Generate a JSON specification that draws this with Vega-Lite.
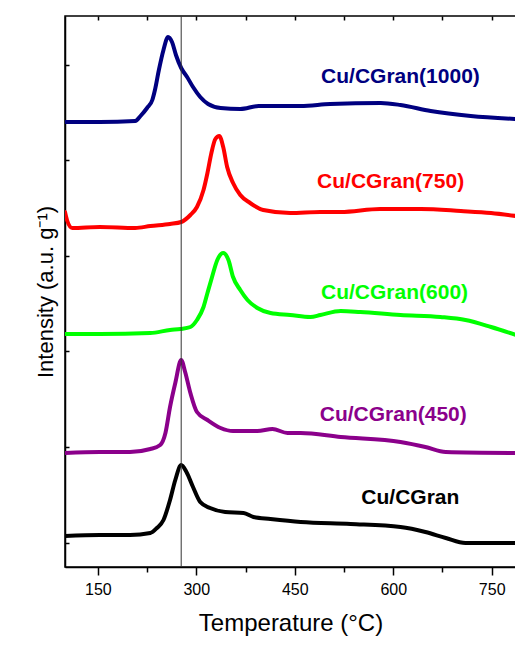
{
  "$schema": "https://vega.github.io/schema/vega-lite/v6.json",
  "autosize": {"type": "none"},
  "padding": {"left": 65, "top": 16, "right": 0, "bottom": 81},
  "width": 451,
  "height": 551,
  "background": "white",
  "config": {
    "font": "Liberation Sans",
    "view": {"stroke": "black", "strokeWidth": 1.5},
    "axis": {"domainColor": "black", "domainWidth": 1.5, "tickColor": "black", "tickWidth": 1.5, "grid": false, "labelFont": "Liberation Sans", "titleFont": "Liberation Sans", "labelColor": "black", "titleColor": "black"}
  },
  "datasets": {
    "curves": [
      {"series": "Cu/CGran", "T": 100, "I": 31}, {"series": "Cu/CGran", "T": 153, "I": 32}, {"series": "Cu/CGran", "T": 199, "I": 32}, {"series": "Cu/CGran", "T": 230, "I": 34}, {"series": "Cu/CGran", "T": 240, "I": 39}, {"series": "Cu/CGran", "T": 250, "I": 47}, {"series": "Cu/CGran", "T": 260, "I": 67}, {"series": "Cu/CGran", "T": 268, "I": 87}, {"series": "Cu/CGran", "T": 277, "I": 102}, {"series": "Cu/CGran", "T": 285, "I": 95}, {"series": "Cu/CGran", "T": 295, "I": 80}, {"series": "Cu/CGran", "T": 306, "I": 65}, {"series": "Cu/CGran", "T": 321, "I": 59}, {"series": "Cu/CGran", "T": 344, "I": 55}, {"series": "Cu/CGran", "T": 372, "I": 54}, {"series": "Cu/CGran", "T": 387, "I": 50}, {"series": "Cu/CGran", "T": 413, "I": 48}, {"series": "Cu/CGran", "T": 459, "I": 45}, {"series": "Cu/CGran", "T": 535, "I": 43}, {"series": "Cu/CGran", "T": 611, "I": 40}, {"series": "Cu/CGran", "T": 649, "I": 35}, {"series": "Cu/CGran", "T": 680, "I": 29}, {"series": "Cu/CGran", "T": 710, "I": 24}, {"series": "Cu/CGran", "T": 787, "I": 24},
      {"series": "Cu/CGran(450)", "T": 100, "I": 114}, {"series": "Cu/CGran(450)", "T": 153, "I": 115}, {"series": "Cu/CGran(450)", "T": 199, "I": 115}, {"series": "Cu/CGran(450)", "T": 230, "I": 118}, {"series": "Cu/CGran(450)", "T": 245, "I": 122}, {"series": "Cu/CGran(450)", "T": 253, "I": 134}, {"series": "Cu/CGran(450)", "T": 260, "I": 160}, {"series": "Cu/CGran(450)", "T": 268, "I": 184}, {"series": "Cu/CGran(450)", "T": 277, "I": 207}, {"series": "Cu/CGran(450)", "T": 283, "I": 195}, {"series": "Cu/CGran(450)", "T": 291, "I": 174}, {"series": "Cu/CGran(450)", "T": 301, "I": 155}, {"series": "Cu/CGran(450)", "T": 317, "I": 147}, {"series": "Cu/CGran(450)", "T": 337, "I": 139}, {"series": "Cu/CGran(450)", "T": 356, "I": 136}, {"series": "Cu/CGran(450)", "T": 393, "I": 136}, {"series": "Cu/CGran(450)", "T": 416, "I": 138}, {"series": "Cu/CGran(450)", "T": 439, "I": 134}, {"series": "Cu/CGran(450)", "T": 459, "I": 134}, {"series": "Cu/CGran(450)", "T": 520, "I": 130}, {"series": "Cu/CGran(450)", "T": 611, "I": 125}, {"series": "Cu/CGran(450)", "T": 649, "I": 120}, {"series": "Cu/CGran(450)", "T": 680, "I": 115}, {"series": "Cu/CGran(450)", "T": 787, "I": 114},
      {"series": "Cu/CGran(600)", "T": 100, "I": 233}, {"series": "Cu/CGran(600)", "T": 153, "I": 233}, {"series": "Cu/CGran(600)", "T": 230, "I": 234}, {"series": "Cu/CGran(600)", "T": 260, "I": 237}, {"series": "Cu/CGran(600)", "T": 276, "I": 238}, {"series": "Cu/CGran(600)", "T": 291, "I": 240}, {"series": "Cu/CGran(600)", "T": 301, "I": 247}, {"series": "Cu/CGran(600)", "T": 311, "I": 260}, {"series": "Cu/CGran(600)", "T": 317, "I": 274}, {"series": "Cu/CGran(600)", "T": 324, "I": 290}, {"series": "Cu/CGran(600)", "T": 332, "I": 307}, {"series": "Cu/CGran(600)", "T": 341, "I": 314}, {"series": "Cu/CGran(600)", "T": 349, "I": 307}, {"series": "Cu/CGran(600)", "T": 356, "I": 290}, {"series": "Cu/CGran(600)", "T": 367, "I": 277}, {"series": "Cu/CGran(600)", "T": 378, "I": 267}, {"series": "Cu/CGran(600)", "T": 393, "I": 259}, {"series": "Cu/CGran(600)", "T": 413, "I": 254}, {"series": "Cu/CGran(600)", "T": 443, "I": 252}, {"series": "Cu/CGran(600)", "T": 474, "I": 250}, {"series": "Cu/CGran(600)", "T": 489, "I": 252}, {"series": "Cu/CGran(600)", "T": 520, "I": 256}, {"series": "Cu/CGran(600)", "T": 550, "I": 255}, {"series": "Cu/CGran(600)", "T": 611, "I": 252}, {"series": "Cu/CGran(600)", "T": 672, "I": 250}, {"series": "Cu/CGran(600)", "T": 710, "I": 247}, {"series": "Cu/CGran(600)", "T": 749, "I": 240}, {"series": "Cu/CGran(600)", "T": 787, "I": 232},
      {"series": "Cu/CGran(750)", "T": 100, "I": 355}, {"series": "Cu/CGran(750)", "T": 103, "I": 347}, {"series": "Cu/CGran(750)", "T": 111, "I": 339}, {"series": "Cu/CGran(750)", "T": 153, "I": 340}, {"series": "Cu/CGran(750)", "T": 207, "I": 339}, {"series": "Cu/CGran(750)", "T": 230, "I": 341}, {"series": "Cu/CGran(750)", "T": 260, "I": 343}, {"series": "Cu/CGran(750)", "T": 277, "I": 345}, {"series": "Cu/CGran(750)", "T": 291, "I": 352}, {"series": "Cu/CGran(750)", "T": 301, "I": 360}, {"series": "Cu/CGran(750)", "T": 311, "I": 377}, {"series": "Cu/CGran(750)", "T": 317, "I": 394}, {"series": "Cu/CGran(750)", "T": 323, "I": 414}, {"series": "Cu/CGran(750)", "T": 329, "I": 428}, {"series": "Cu/CGran(750)", "T": 335, "I": 431}, {"series": "Cu/CGran(750)", "T": 341, "I": 420}, {"series": "Cu/CGran(750)", "T": 347, "I": 400}, {"series": "Cu/CGran(750)", "T": 356, "I": 384}, {"series": "Cu/CGran(750)", "T": 367, "I": 372}, {"series": "Cu/CGran(750)", "T": 382, "I": 364}, {"series": "Cu/CGran(750)", "T": 402, "I": 357}, {"series": "Cu/CGran(750)", "T": 443, "I": 354}, {"series": "Cu/CGran(750)", "T": 489, "I": 355}, {"series": "Cu/CGran(750)", "T": 520, "I": 355}, {"series": "Cu/CGran(750)", "T": 580, "I": 358}, {"series": "Cu/CGran(750)", "T": 642, "I": 358}, {"series": "Cu/CGran(750)", "T": 703, "I": 356}, {"series": "Cu/CGran(750)", "T": 749, "I": 354}, {"series": "Cu/CGran(750)", "T": 787, "I": 351},
      {"series": "Cu/CGran(1000)", "T": 100, "I": 445}, {"series": "Cu/CGran(1000)", "T": 153, "I": 445}, {"series": "Cu/CGran(1000)", "T": 207, "I": 446}, {"series": "Cu/CGran(1000)", "T": 215, "I": 451}, {"series": "Cu/CGran(1000)", "T": 225, "I": 459}, {"series": "Cu/CGran(1000)", "T": 233, "I": 467}, {"series": "Cu/CGran(1000)", "T": 237, "I": 477}, {"series": "Cu/CGran(1000)", "T": 243, "I": 497}, {"series": "Cu/CGran(1000)", "T": 250, "I": 517}, {"series": "Cu/CGran(1000)", "T": 257, "I": 530}, {"series": "Cu/CGran(1000)", "T": 263, "I": 525}, {"series": "Cu/CGran(1000)", "T": 269, "I": 512}, {"series": "Cu/CGran(1000)", "T": 277, "I": 499}, {"series": "Cu/CGran(1000)", "T": 286, "I": 490}, {"series": "Cu/CGran(1000)", "T": 295, "I": 480}, {"series": "Cu/CGran(1000)", "T": 306, "I": 470}, {"series": "Cu/CGran(1000)", "T": 318, "I": 463}, {"series": "Cu/CGran(1000)", "T": 337, "I": 459}, {"series": "Cu/CGran(1000)", "T": 367, "I": 458}, {"series": "Cu/CGran(1000)", "T": 395, "I": 461}, {"series": "Cu/CGran(1000)", "T": 459, "I": 461}, {"series": "Cu/CGran(1000)", "T": 504, "I": 463}, {"series": "Cu/CGran(1000)", "T": 581, "I": 464}, {"series": "Cu/CGran(1000)", "T": 611, "I": 462}, {"series": "Cu/CGran(1000)", "T": 657, "I": 456}, {"series": "Cu/CGran(1000)", "T": 718, "I": 451}, {"series": "Cu/CGran(1000)", "T": 787, "I": 448}
    ],
    "labels": [
      {"series": "Cu/CGran(1000)", "T": 611, "I": 490},
      {"series": "Cu/CGran(750)", "T": 596, "I": 385},
      {"series": "Cu/CGran(600)", "T": 602, "I": 274},
      {"series": "Cu/CGran(450)", "T": 600, "I": 152},
      {"series": "Cu/CGran", "T": 626, "I": 69}
    ],
    "marker": [{"T": 277}]
  },
  "resolve": {"axis": {"x": "independent", "y": "independent"}},
  "layer": [
    {
      "data": {"name": "curves"},
      "mark": {"type": "line", "strokeWidth": 4, "interpolate": "monotone", "strokeCap": "round", "strokeJoin": "round", "clip": true},
      "encoding": {
        "x": {"field": "T", "type": "quantitative", "scale": {"domain": [100, 787], "nice": false, "zero": false},
          "axis": {"orient": "bottom", "values": [150, 225, 300, 375, 450, 525, 600, 675, 750], "labelExpr": "datum.value % 150 === 0 ? datum.label : ''", "tickSize": {"condition": {"test": "datum.value % 150 === 0", "value": 8}, "value": 5}, "labelFontSize": 16, "labelPadding": 6, "title": "Temperature (°C)", "titleFontSize": 24, "titleFontWeight": "normal", "titlePadding": 14}},
        "y": {"field": "I", "type": "quantitative", "scale": {"domain": [0, 551], "nice": false, "zero": false},
          "axis": {"orient": "left", "ticks": false, "labels": false, "title": "Intensity (a.u. g⁻¹)", "titleFontSize": 22, "titleFontWeight": "normal", "titlePadding": 8}},
        "color": {"field": "series", "type": "nominal", "scale": {"domain": ["Cu/CGran", "Cu/CGran(450)", "Cu/CGran(600)", "Cu/CGran(750)", "Cu/CGran(1000)"], "range": ["#000000", "#8B008B", "#00FF00", "#FF0000", "#000080"]}, "legend": null},
        "detail": {"field": "series"}
      }
    },
    {
      "data": {"name": "marker"},
      "mark": {"type": "rule", "color": "#333333", "strokeWidth": 1},
      "encoding": {
        "x": {"field": "T", "type": "quantitative",
          "axis": {"orient": "top", "offset": -4, "values": [150, 225, 300, 375, 450, 525, 600, 675, 750], "labels": false, "tickSize": 4, "domain": false, "title": null}}
      }
    },
    {
      "data": {"name": "labels"},
      "mark": {"type": "text", "fontSize": 21, "fontWeight": "bold", "align": "center", "baseline": "middle", "font": "Liberation Sans"},
      "encoding": {
        "x": {"field": "T", "type": "quantitative", "axis": null},
        "y": {"field": "I", "type": "quantitative", "axis": {"orient": "left", "offset": -4, "values": [24, 120, 216, 311, 407, 502], "labels": false, "tickSize": 4, "domain": false, "title": null}},
        "text": {"field": "series"},
        "color": {"field": "series", "type": "nominal", "legend": null}
      }
    }
  ]
}
